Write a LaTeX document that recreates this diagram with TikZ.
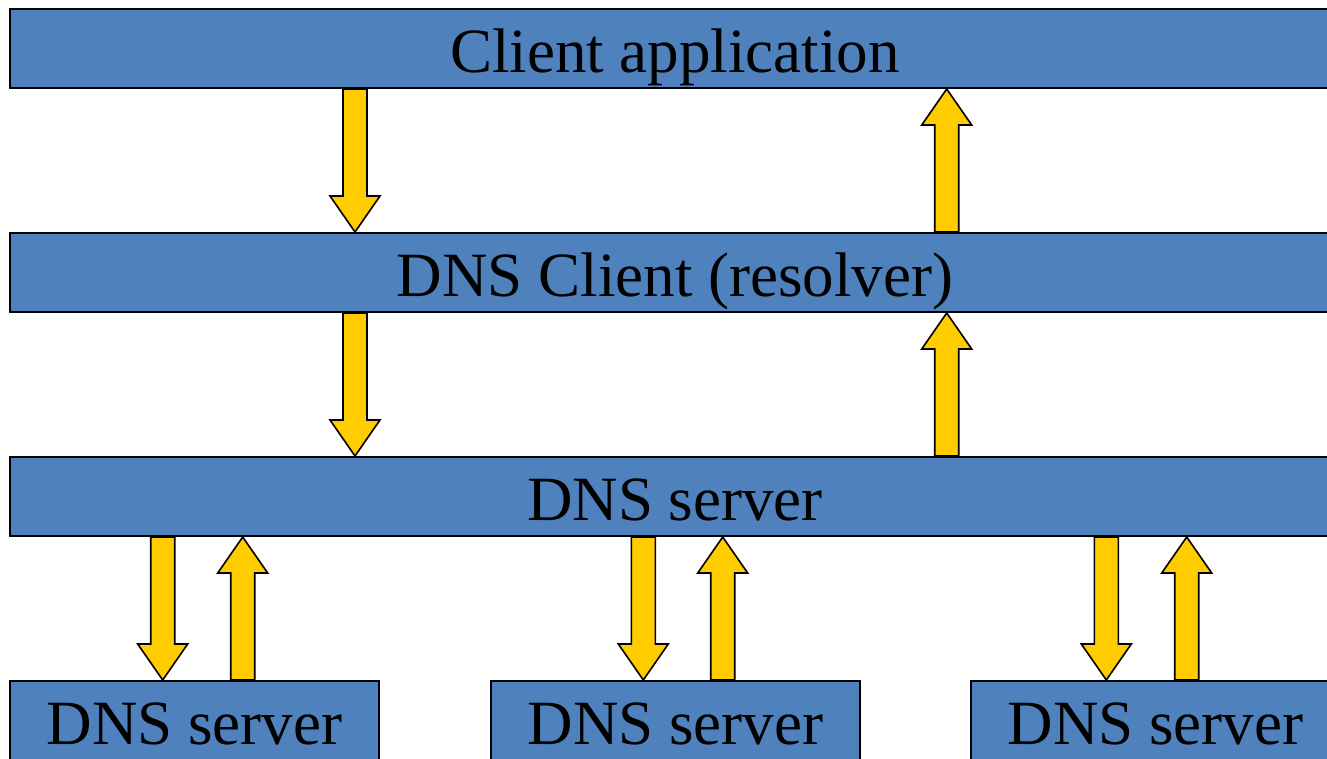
\documentclass[tikz,border=0pt]{standalone}
\usepackage{fontspec}
\setmainfont{Liberation Serif}
\newfontfamily\labelfont{Liberation Serif}
\usetikzlibrary{calc}
\definecolor{layerblue}{HTML}{4F81BD}
\definecolor{flowyellow}{HTML}{FFCC00}
% block arrow pointing down from the lower edge of #2 to the upper edge of #3, at x = #1
\newcommand\flowdown[3]{%
  \draw[flowarrow] let \p1=(#2.south), \p2=(#3.north) in
    ({#1-12},\y1) -- ({#1-12},\y2+36pt) -- ({#1-25},\y2+36pt) -- (#1,\y2)
    -- ({#1+25},\y2+36pt) -- ({#1+12},\y2+36pt) -- ({#1+12},\y1) -- cycle;}
% block arrow pointing up from the upper edge of #2 to the lower edge of #3, at x = #1
\newcommand\flowup[3]{%
  \draw[flowarrow] let \p1=(#2.north), \p2=(#3.south) in
    ({#1-12},\y1) -- ({#1-12},\y2-36pt) -- ({#1-25},\y2-36pt) -- (#1,\y2)
    -- ({#1+25},\y2-36pt) -- ({#1+12},\y2-36pt) -- ({#1+12},\y1) -- cycle;}
\begin{document}
\begin{tikzpicture}[x=1pt,y=1pt,
  layer/.style={draw=black, line width=2pt, fill=layerblue, rectangle,
    inner sep=0pt, minimum height=79pt, text height=63pt, text depth=16pt,
    font=\labelfont\fontsize{63}{75}\selectfont},
  wide/.style={layer, minimum width=1330pt},
  narrow/.style={layer, minimum width=369pt},
  flowarrow/.style={draw=black, line width=1.6pt, fill=flowyellow, line join=miter}]
\useasboundingbox (0,0) rectangle (1327,-758);
\clip (0,0) rectangle (1327,-758);

\node[wide] (app) at (675,-48.5) {Client application};
\node[wide] (resolver) at (675,-272.5) {DNS Client (resolver)};
\node[wide] (server) at (675,-496.5) {DNS server};
\node[narrow] (srvA) at (194.5,-720.5) {DNS server};
\node[narrow] (srvB) at (675.5,-720.5) {DNS server};
\node[narrow] (srvC) at (1155.5,-720.5) {DNS server};

\flowdown{355}{app}{resolver}
\flowup{946.7}{resolver}{app}
\flowdown{355}{resolver}{server}
\flowup{946.7}{server}{resolver}

\flowdown{162.7}{server}{srvA}
\flowup{242.7}{srvA}{server}
\flowdown{643.3}{server}{srvB}
\flowup{722.7}{srvB}{server}
\flowdown{1106.3}{server}{srvC}
\flowup{1186.7}{srvC}{server}
\end{tikzpicture}
\end{document}
